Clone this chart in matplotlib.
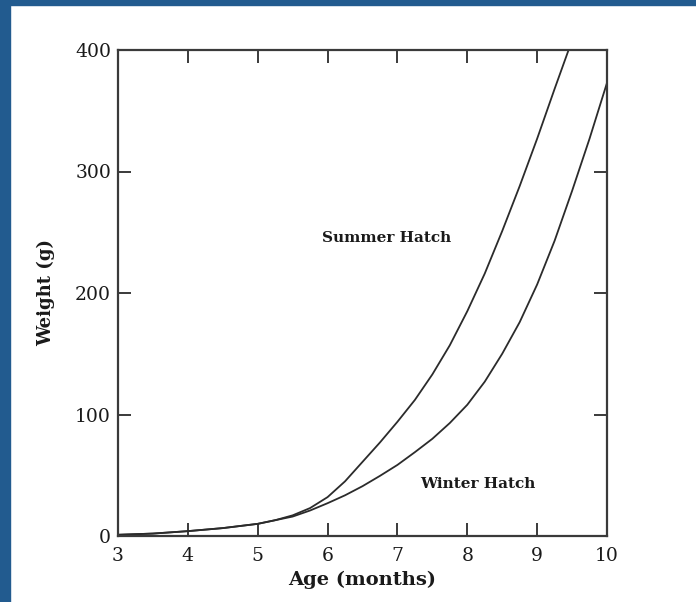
import numpy as np
import matplotlib
matplotlib.use('Agg')
import matplotlib.pyplot as plt
from matplotlib.patches import Rectangle

# values
summer_age = [3, 3.5, 4, 4.5, 5, 5.25, 5.5, 5.75, 6, 6.25, 6.5, 6.75, 7, 7.25,
              7.5, 7.75, 8, 8.25, 8.5, 8.75, 9, 9.25, 9.45]
summer_wt = [1, 2, 4, 6.5, 10, 13, 17, 23, 32, 45, 61, 77, 94, 112,
             133, 157, 185, 216, 251, 288, 327, 368, 400]
winter_age = [3, 3.5, 4, 4.5, 5, 5.5, 5.75, 6, 6.25, 6.5, 6.75, 7, 7.25, 7.5,
              7.75, 8, 8.25, 8.5, 8.75, 9, 9.25, 9.5, 9.75, 10]
winter_wt = [1, 2, 4, 6.5, 10, 16, 21, 27, 33.5, 41, 49.5, 58.5, 69, 80,
             93, 108, 127, 150, 176, 207, 243, 284, 327, 373]
xticks = [3, 4, 5, 6, 7, 8, 9, 10]
yticks = [0, 100, 200, 300, 400]

plt.rcParams['font.family'] = ['DejaVu Serif']
ink = '#2b2b2b'

fig = plt.figure(figsize=(6.96, 6.02), dpi=100)
fig.patch.set_facecolor('white')
# blue frame of the scan (left and top edges)
fig.patches.append(Rectangle((0, 0), 10/696, 1, transform=fig.transFigure,
                             color='#225b8f', zorder=0))
fig.patches.append(Rectangle((0, 1 - 5/602), 1, 5/602, transform=fig.transFigure,
                             color='#225b8f', zorder=0))

ax = fig.add_axes([118/696, 66/602, 489/696, 486/602])
ax.plot(summer_age, summer_wt, color=ink, lw=1.3)
ax.plot(winter_age, winter_wt, color=ink, lw=1.3)
ax.set_xlim(3, 10)
ax.set_ylim(0, 400)
ax.set_xticks(xticks)
ax.set_yticks(yticks)
ax.tick_params(direction='in', length=9.5, width=1.3, color=ink,
               top=True, right=True, labelsize=13.5, labelcolor='#1a1a1a')
ax.tick_params(axis='x', pad=8)
ax.tick_params(axis='y', pad=5)
for s in ax.spines.values():
    s.set_linewidth(1.6)
    s.set_color('#3a3a3a')

ax.set_xlabel('Age (months)', fontsize=14, fontweight='bold', color='#1a1a1a', labelpad=4)
ax.set_ylabel('Weight (g)', fontsize=13, fontweight='bold', color='#1a1a1a', labelpad=14)

ax.text(6.85, 245, 'Summer Hatch', ha='center', va='center', fontsize=11,
        fontweight='bold', color='#1a1a1a')
ax.text(8.15, 43, 'Winter Hatch', ha='center', va='center', fontsize=11,
        fontweight='bold', color='#1a1a1a')

plt.savefig('out.png', dpi=100)
